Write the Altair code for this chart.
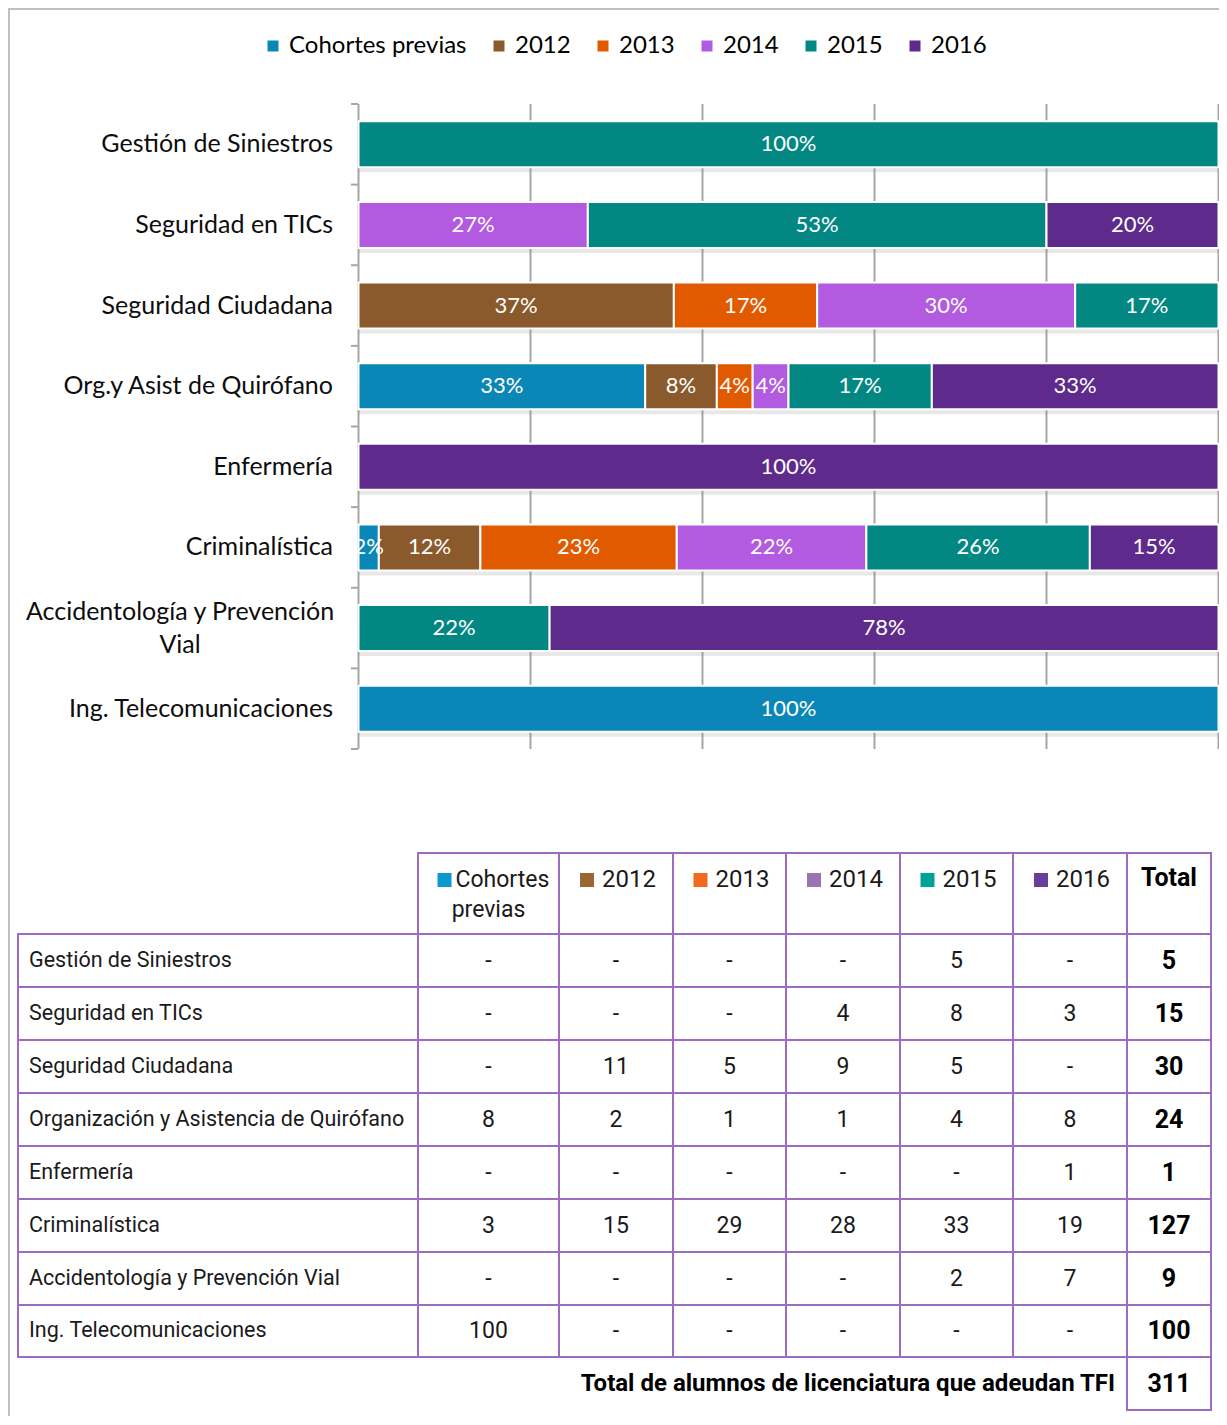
import altair as alt
import pandas as pd

# ---------------- data ----------------
careers_chart = ["Gestión de Siniestros", "Seguridad en TICs", "Seguridad Ciudadana",
                 "Org.y Asist de Quirófano", "Enfermería", "Criminalística",
                 "Accidentología y Prevención Vial", "Ing. Telecomunicaciones"]
careers_table = ["Gestión de Siniestros", "Seguridad en TICs", "Seguridad Ciudadana",
                 "Organización y Asistencia de Quirófano", "Enfermería", "Criminalística",
                 "Accidentología y Prevención Vial", "Ing. Telecomunicaciones"]
series = ["Cohortes previas", "2012", "2013", "2014", "2015", "2016"]
cohortes = [0, 0, 0, 8, 0, 3, 0, 100]
y2012 = [0, 0, 11, 2, 0, 15, 0, 0]
y2013 = [0, 0, 5, 1, 0, 29, 0, 0]
y2014 = [0, 4, 9, 1, 0, 28, 0, 0]
y2015 = [5, 8, 5, 4, 0, 33, 2, 0]
y2016 = [0, 3, 0, 8, 1, 19, 7, 0]
total_label = "Total de alumnos de licenciatura que adeudan TFI"

bar_colors = ["#0a87b6", "#8a5a2d", "#e25a00", "#b25ae0", "#038783", "#5e2a8b"]
header_colors = ["#0b9ad0", "#9c6630", "#ef6a1e", "#9b73b5", "#00a19a", "#6a3d99"]
grid_color = "#a6a6a6"
table_line = "#9b6cc2"

series_values = [cohortes, y2012, y2013, y2014, y2015, y2016]

rows = []
for i, c in enumerate(careers_chart):
    for j, s in enumerate(series):
        rows.append({"carrera": c, "idx": i, "serie": s, "ord": j, "n": series_values[j][i]})
df = pd.DataFrame(rows)

# ---------------- layout ----------------
W, H = 1211, 1408
X_RANGE = [350.5, 1210.5]
Y_RANGE = [96, 741]
FONT = "Lato"
TFONT = "Roboto"

xs = alt.Scale(domain=[0, 1], range=X_RANGE, nice=False, zero=False)
ys = alt.Scale(domain=careers_chart, range=Y_RANGE, paddingInner=0.43, paddingOuter=0.215)
yb = alt.Scale(domain=[0, len(careers_chart)], range=Y_RANGE, nice=False, zero=False)

# table column/row edges (piecewise linear scales over column / row index)
tx = alt.Scale(domain=list(range(9)), range=[10, 410, 551, 665, 778, 892, 1005, 1119, 1203],
               nice=False, zero=False)
ty = alt.Scale(domain=list(range(11)),
               range=[845, 926, 979, 1032, 1085, 1138, 1191, 1244, 1297, 1349, 1402],
               nice=False, zero=False)

# ---------------- bar chart ----------------
base = (alt.Chart(df)
        .transform_filter("datum.n > 0")
        .transform_stack(stack="n", groupby=["carrera"], as_=["x0", "x1"], offset="normalize",
                         sort=[alt.SortField("ord", order="ascending")])
        .transform_calculate(mid="(datum.x0 + datum.x1) / 2")
        .transform_joinaggregate(tot="sum(n)", groupby=["carrera"])
        .transform_calculate(lbl="format(datum.n / datum.tot, '.0%')"))

careers_df = pd.DataFrame({"carrera": careers_chart, "idx": list(range(len(careers_chart)))})

shadow = alt.Chart(careers_df).transform_calculate(a="0", b="1").mark_bar(
    color="#8c8c8c", opacity=0.2).encode(
    x=alt.X("a:Q", scale=xs, axis=None), x2="b:Q",
    y=alt.Y("carrera:N", scale=ys, axis=None),
    yOffset=alt.value(5))

grid_df = pd.DataFrame({"v": [0.0, 0.2, 0.4, 0.6, 0.8, 1.0]})
grid = alt.Chart(grid_df).mark_rule(color=grid_color, strokeWidth=2).encode(
    x=alt.X("v:Q", scale=xs, axis=None), y=alt.value(Y_RANGE[0]), y2=alt.value(Y_RANGE[1]))

tick_df = pd.DataFrame({"b": list(range(len(careers_chart) + 1))})
ticks = alt.Chart(tick_df).mark_rule(color=grid_color, strokeWidth=2).encode(
    y=alt.Y("b:Q", scale=yb, axis=None), x=alt.value(343), x2=alt.value(350))

bars = base.mark_bar(stroke="white", strokeWidth=2).encode(
    x=alt.X("x0:Q", scale=xs, axis=None), x2="x1:Q",
    y=alt.Y("carrera:N", scale=ys, axis=None),
    color=alt.Color("serie:N", scale=alt.Scale(domain=series, range=bar_colors),
                    legend=alt.Legend(title=None, orient="none", legendX=253, legendY=26,
                                      direction="horizontal", columns=6, columnPadding=20,
                                      symbolType="square", symbolSize=121, symbolStrokeWidth=0,
                                      labelFont=FONT, labelFontSize=24, labelColor="#000000",
                                      labelOffset=4, labelLimit=400, padding=0)))

pct = base.mark_text(color="white", font=FONT, fontSize=22).encode(
    x=alt.X("mid:Q", scale=xs, axis=None),
    y=alt.Y("carrera:N", scale=ys, axis=None),
    text="lbl:N")

single = [c for c in careers_chart if c != "Accidentología y Prevención Vial"]
cat_labels = alt.Chart(careers_df).transform_filter(
    alt.FieldOneOfPredicate(field="carrera", oneOf=single)).mark_text(
    align="right", font=FONT, fontSize=25, color="#0d0d0d").encode(
    x=alt.value(325), y=alt.Y("carrera:N", scale=ys, axis=None), text="carrera:N")

two_line = alt.Chart(careers_df).transform_filter(
    "datum.carrera == 'Accidentología y Prevención Vial'").transform_calculate(
    t="split('Accidentología y Prevención|Vial', '|')").mark_text(
    align="center", font=FONT, fontSize=25, color="#0d0d0d", lineHeight=33, dy=-16).encode(
    x=alt.value(172), y=alt.Y("carrera:N", scale=ys, axis=None), text="t:N")

# ---------------- table ----------------
cells = []
for c in range(1, 8):
    cells.append({"c0": c, "c1": c + 1, "r0": 0, "r1": 1})
for r in range(1, 9):
    for c in range(0, 8):
        cells.append({"c0": c, "c1": c + 1, "r0": r, "r1": r + 1})
cells.append({"c0": 7, "c1": 8, "r0": 9, "r1": 10})
cells_df = pd.DataFrame(cells)

grid_tab = alt.Chart(cells_df).mark_rect(fillOpacity=0, stroke=table_line, strokeWidth=2).encode(
    x=alt.X("c0:Q", scale=tx, axis=None), x2="c1:Q",
    y=alt.Y("r0:Q", scale=ty, axis=None), y2="r1:Q")

names_df = pd.DataFrame({"name": careers_table, "r": [i + 1.5 for i in range(len(careers_table))],
                         "c": 0})
names = alt.Chart(names_df).mark_text(align="left", dx=11, font=TFONT, fontSize=21.5,
                                      color="#1a1a1a").encode(
    x=alt.X("c:Q", scale=tx, axis=None), y=alt.Y("r:Q", scale=ty, axis=None), text="name:N")

vals = []
for i in range(len(careers_table)):
    for j in range(len(series)):
        v = series_values[j][i]
        vals.append({"r": i + 1.5, "c": j + 1.5, "t": str(v) if v > 0 else "-"})
vals_df = pd.DataFrame(vals)
values_txt = alt.Chart(vals_df).mark_text(font=TFONT, fontSize=23, color="#1a1a1a").encode(
    x=alt.X("c:Q", scale=tx, axis=None), y=alt.Y("r:Q", scale=ty, axis=None), text="t:N")

totals = [sum(series_values[j][i] for j in range(len(series))) for i in range(len(careers_table))]
tot_df = pd.DataFrame({"r": [i + 1.5 for i in range(len(totals))] + [9.5],
                       "c": [7.5] * (len(totals) + 1),
                       "t": [str(t) for t in totals] + [str(sum(totals))]})
totals_txt = alt.Chart(tot_df).mark_text(font=TFONT, fontSize=25, fontWeight="bold",
                                         color="#000000").encode(
    x=alt.X("c:Q", scale=tx, axis=None), y=alt.Y("r:Q", scale=ty, axis=None), text="t:N")

total_lbl_df = pd.DataFrame({"r": [9.5], "c": [7], "t": [total_label]})
total_lbl = alt.Chart(total_lbl_df).mark_text(align="right", dx=-12, font=TFONT, fontSize=24,
                                              fontWeight="bold", color="#000000").encode(
    x=alt.X("c:Q", scale=tx, axis=None), y=alt.Y("r:Q", scale=ty, axis=None), text="t:N")

# header
hdr_df = pd.DataFrame({"serie": series, "c": [j + 1.5 for j in range(len(series))], "r": 0})
hdr_years = alt.Chart(hdr_df).transform_filter("datum.serie != 'Cohortes previas'").mark_text(
    font=TFONT, fontSize=24, color="#1a1a1a", align="left", dx=-14, dy=27).encode(
    x=alt.X("c:Q", scale=tx, axis=None), y=alt.Y("r:Q", scale=ty, axis=None), text="serie:N")
hdr_sq_years = alt.Chart(hdr_df).transform_filter("datum.serie != 'Cohortes previas'").mark_square(
    size=196, opacity=1).encode(
    x=alt.X("c:Q", scale=tx, axis=None), y=alt.Y("r:Q", scale=ty, axis=None),
    xOffset=alt.value(-29), yOffset=alt.value(27),
    color=alt.Color("serie:N", scale=alt.Scale(domain=series, range=header_colors), legend=None))
hdr_coh = alt.Chart(hdr_df).transform_filter("datum.serie == 'Cohortes previas'").mark_text(
    font=TFONT, fontSize=23, color="#1a1a1a", align="left", dx=-33, dy=27).encode(
    x=alt.X("c:Q", scale=tx, axis=None), y=alt.Y("r:Q", scale=ty, axis=None),
    text=alt.value("Cohortes"))
hdr_prev = alt.Chart(hdr_df).transform_filter("datum.serie == 'Cohortes previas'").mark_text(
    font=TFONT, fontSize=23, color="#1a1a1a", dy=57).encode(
    x=alt.X("c:Q", scale=tx, axis=None), y=alt.Y("r:Q", scale=ty, axis=None),
    text=alt.value("previas"))
hdr_sq_coh = alt.Chart(hdr_df).transform_filter("datum.serie == 'Cohortes previas'").mark_square(
    size=196, opacity=1).encode(
    x=alt.X("c:Q", scale=tx, axis=None), y=alt.Y("r:Q", scale=ty, axis=None),
    xOffset=alt.value(-44), yOffset=alt.value(27),
    color=alt.Color("serie:N", scale=alt.Scale(domain=series, range=header_colors), legend=None))
hdr_total_df = pd.DataFrame({"c": [7.5], "r": [0], "t": ["Total"]})
hdr_total = alt.Chart(hdr_total_df).mark_text(font=TFONT, fontSize=25, fontWeight="bold",
                                              color="#000000", dy=25).encode(
    x=alt.X("c:Q", scale=tx, axis=None), y=alt.Y("r:Q", scale=ty, axis=None), text="t:N")

# frame
frame_df = pd.DataFrame({"a": [0]})
frame_v = alt.Chart(frame_df).mark_rule(color="#c0c0c0", strokeWidth=2).encode(
    x=alt.value(1), y=alt.value(0), y2=alt.value(H))
frame_h = alt.Chart(frame_df).mark_rule(color="#c0c0c0", strokeWidth=2).encode(
    y=alt.value(1), x=alt.value(0), x2=alt.value(W))

chart = alt.layer(
    frame_v, frame_h, grid, ticks, shadow, bars, pct, cat_labels, two_line,
    grid_tab, names, values_txt, totals_txt, total_lbl,
    hdr_years, hdr_sq_years, hdr_coh, hdr_prev, hdr_sq_coh, hdr_total
).resolve_scale(x="independent", y="independent", color="independent").properties(
    width=W, height=H, padding=0, autosize=alt.AutoSizeParams(type="none")
).configure_view(stroke=None)

chart.save("out.html", embed_options={"renderer": "svg", "actions": False})
